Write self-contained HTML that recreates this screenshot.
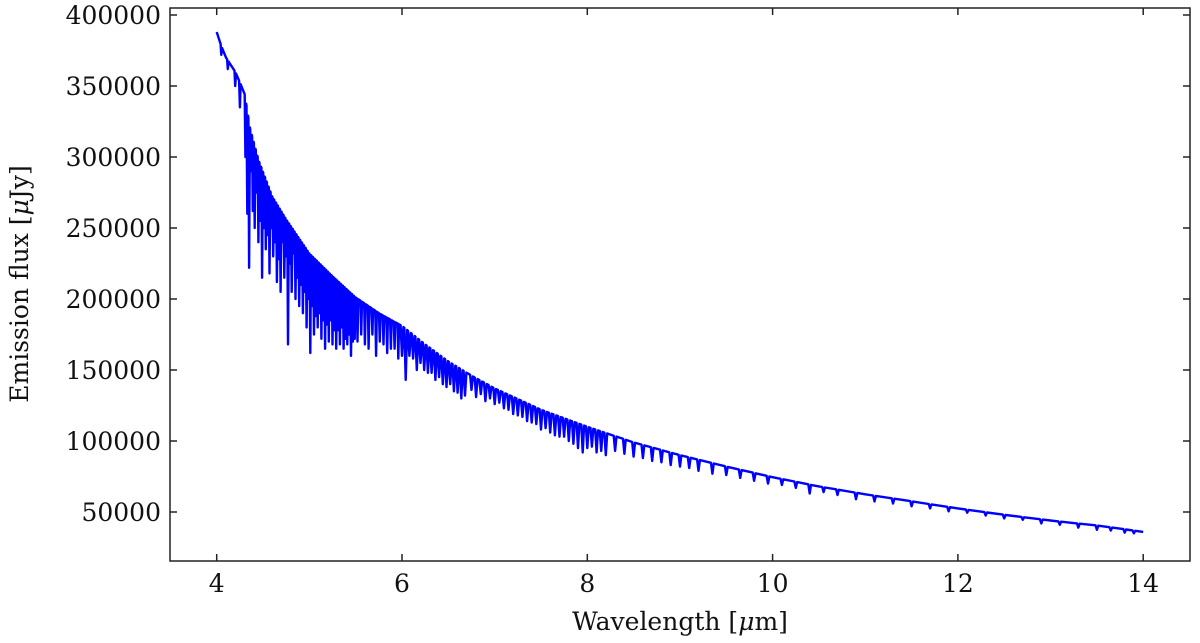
<!DOCTYPE html>
<html><head><meta charset="utf-8">
<style>
html,body{margin:0;padding:0;background:#fff;}
svg{display:block;font-family:"DejaVu Serif","Liberation Serif",serif;}
</style></head>
<body>
<svg id="chart" width="1200" height="643">
  <rect x="170" y="8" width="1020" height="553" fill="#fff"/>
  <g id="marks"></g>
  <g id="axes"></g>
  <rect x="170" y="8" width="1020" height="553" fill="none" stroke="#222" stroke-width="1.5"/>
  <text x="680" y="630" font-size="25" text-anchor="middle" fill="#111">Wavelength [<tspan font-style="italic">μ</tspan>m]</text>
  <text transform="translate(28,284) rotate(-90)" font-size="25" text-anchor="middle" fill="#111">Emission flux [<tspan font-style="italic">μ</tspan>Jy]</text>
</svg>
<script>
const xTicks = [4, 6, 8, 10, 12, 14];
const yTicks = [50000, 100000, 150000, 200000, 250000, 300000, 350000, 400000];
const contWave = [4.0, 4.05, 4.1, 4.2, 4.3, 4.36, 4.45, 4.6, 4.75, 5.0, 5.25, 5.5, 5.75, 6.0, 6.25, 6.5, 6.75, 7.0, 7.5, 8.0, 8.5, 9.0, 9.5, 10.0, 10.5, 11.0, 11.5, 12.0, 12.5, 13.0, 13.5, 14.0];
const contFlux = [388000, 378000, 370000, 360000, 345000, 320000, 298000, 272000, 256000, 232000, 216000, 201000, 190000, 181000, 168000, 156000, 146000, 137000, 122000, 110000, 99000, 90000, 82000, 74500, 68000, 62500, 57500, 52500, 48000, 44000, 40500, 36000];
const dipWave = [
4.05,4.12,4.2,4.25,
4.31,4.33,4.35,4.37,4.39,4.41,4.43,4.45,4.47,4.49,
4.51,4.53,4.55,4.57,4.59,4.61,4.63,4.65,4.67,4.69,
4.71,4.73,4.75,4.77,4.79,4.81,4.83,4.85,4.87,4.89,
4.91,4.93,4.95,4.97,4.99,5.01,5.03,5.05,5.07,5.09,
5.11,5.13,5.15,5.17,5.19,5.21,5.23,5.25,5.27,5.29,
5.31,5.33,5.35,5.37,5.39,5.41,5.43,5.45,5.47,5.49,
5.52,5.56,5.6,5.64,5.68,5.72,5.76,5.8,5.84,5.88,
5.92,5.96,6.0,6.04,6.08,6.12,6.16,6.2,6.24,6.28,
6.32,6.36,6.4,6.44,6.48,6.52,6.56,6.6,6.64,6.68,
6.75,6.8,6.85,6.9,6.95,7.0,7.05,7.1,7.15,7.2,
7.25,7.3,7.35,7.4,7.45,7.5,7.55,7.6,7.65,7.7,
7.75,7.8,7.85,7.9,7.95,8.0,8.05,8.1,8.15,8.2,
8.3,8.4,8.5,8.6,8.7,8.8,8.9,9.0,9.1,9.2,
9.35,9.5,9.65,9.8,9.95,10.1,10.25,10.4,10.55,10.7,
10.9,11.1,11.3,11.5,11.7,11.9,12.1,12.3,12.5,12.7,
12.9,13.1,13.3,13.5,13.65,13.8,13.9];
const dipFlux = [
372000,362000,350000,335000,
300000,260000,222000,290000,262000,250000,275000,240000,255000,215000,
250000,235000,245000,218000,250000,230000,240000,212000,228000,205000,
240000,215000,230000,168000,225000,205000,232000,200000,215000,195000,
210000,190000,205000,180000,200000,162000,195000,175000,188000,180000,
190000,172000,185000,165000,182000,170000,185000,168000,178000,165000,
178000,168000,180000,165000,172000,168000,175000,160000,170000,172000,
170000,175000,168000,165000,175000,160000,170000,168000,162000,165000,
165000,158000,160000,143000,160000,158000,150000,155000,150000,148000,
148000,143000,145000,140000,138000,140000,135000,134000,130000,132000,
136000,131000,133000,128000,130000,126000,127000,123000,122000,119000,
118000,117000,114000,113000,112000,108000,109000,106000,104000,103000,
103000,100000,98000,95000,92000,95000,96000,92000,93000,90000,
93000,91000,89000,88000,86000,85000,83000,82000,81000,79000,
77000,76000,74000,72000,70000,69000,67000,63000,64000,62000,
59000,57500,56000,54000,52500,50500,49500,47500,45500,44500,
42000,41000,39000,37500,37000,35500,35000];
const NS='http://www.w3.org/2000/svg';
const X0=170,X1=1190,Y0=8,Y1=561;
function xs(v){return 216.7+(v-4)*(402-216.7)/2;}
function ys(v){return 512-(v-50000)*71/50000;}
function cont(w){for(let i=0;i<contWave.length-1;i++){if(w<=contWave[i+1]){const t=(w-contWave[i])/(contWave[i+1]-contWave[i]);return contFlux[i]+t*(contFlux[i+1]-contFlux[i]);}}return contFlux[contFlux.length-1];}
const axes=document.getElementById('axes');
xTicks.forEach(v=>{
  const l=document.createElementNS(NS,'line');
  l.setAttribute('x1',xs(v));l.setAttribute('x2',xs(v));l.setAttribute('y1',Y1);l.setAttribute('y2',Y1-7);
  l.setAttribute('stroke','#222');l.setAttribute('stroke-width','1.5');
  
  
  axes.appendChild(l);
  const l2=l.cloneNode();l2.setAttribute('y1',Y0);l2.setAttribute('y2',Y0+7);axes.appendChild(l2);
  const t=document.createElementNS(NS,'text');
  t.setAttribute('x',xs(v));t.setAttribute('y',592);t.setAttribute('font-size','25');t.setAttribute('text-anchor','middle');t.setAttribute('fill','#111');
  t.textContent=v;
  
  
  axes.appendChild(t);
});
yTicks.forEach(v=>{
  const l=document.createElementNS(NS,'line');
  l.setAttribute('x1',X0);l.setAttribute('x2',X0+7);l.setAttribute('y1',ys(v));l.setAttribute('y2',ys(v));
  l.setAttribute('stroke','#222');l.setAttribute('stroke-width','1.5');
  
  
  axes.appendChild(l);
  const l2=l.cloneNode();l2.setAttribute('x1',X1);l2.setAttribute('x2',X1-7);axes.appendChild(l2);
  const t=document.createElementNS(NS,'text');
  t.setAttribute('x',161);t.setAttribute('y',ys(v)+9);t.setAttribute('font-size','25');t.setAttribute('text-anchor','end');t.setAttribute('fill','#111');
  t.textContent=v;
  
  
  axes.appendChild(t);
});
let pts=[];
const n=Math.min(dipWave.length,dipFlux.length);
const dipsSorted=[];
for(let i=0;i<n;i++)dipsSorted.push([dipWave[i],dipFlux[i]]);
dipsSorted.sort((a,b)=>a[0]-b[0]);
dipsSorted.forEach(([w,f])=>{
  const hw=w<6?0.008:0.015;
  pts.push([w-hw,cont(w-hw)]);pts.push([w,f]);pts.push([w+hw,cont(w+hw)]);
});
for(let i=0;i<contWave.length;i++){
  const w=contWave[i];
  if(!dipsSorted.some(d=>Math.abs(d[0]-w)<0.02))pts.push([w,contFlux[i]]);
}
pts.sort((a,b)=>a[0]-b[0]);
const d=pts.map((p,i)=>(i?'L':'M')+xs(p[0]).toFixed(1)+','+ys(p[1]).toFixed(1)).join(' ');
const path=document.createElementNS(NS,'path');
path.setAttribute('d',d);path.setAttribute('fill','none');path.setAttribute('stroke','#0000ff');path.setAttribute('stroke-width','2.4');path.setAttribute('stroke-linejoin','round');


document.getElementById('marks').appendChild(path);
</script>
</body></html>
